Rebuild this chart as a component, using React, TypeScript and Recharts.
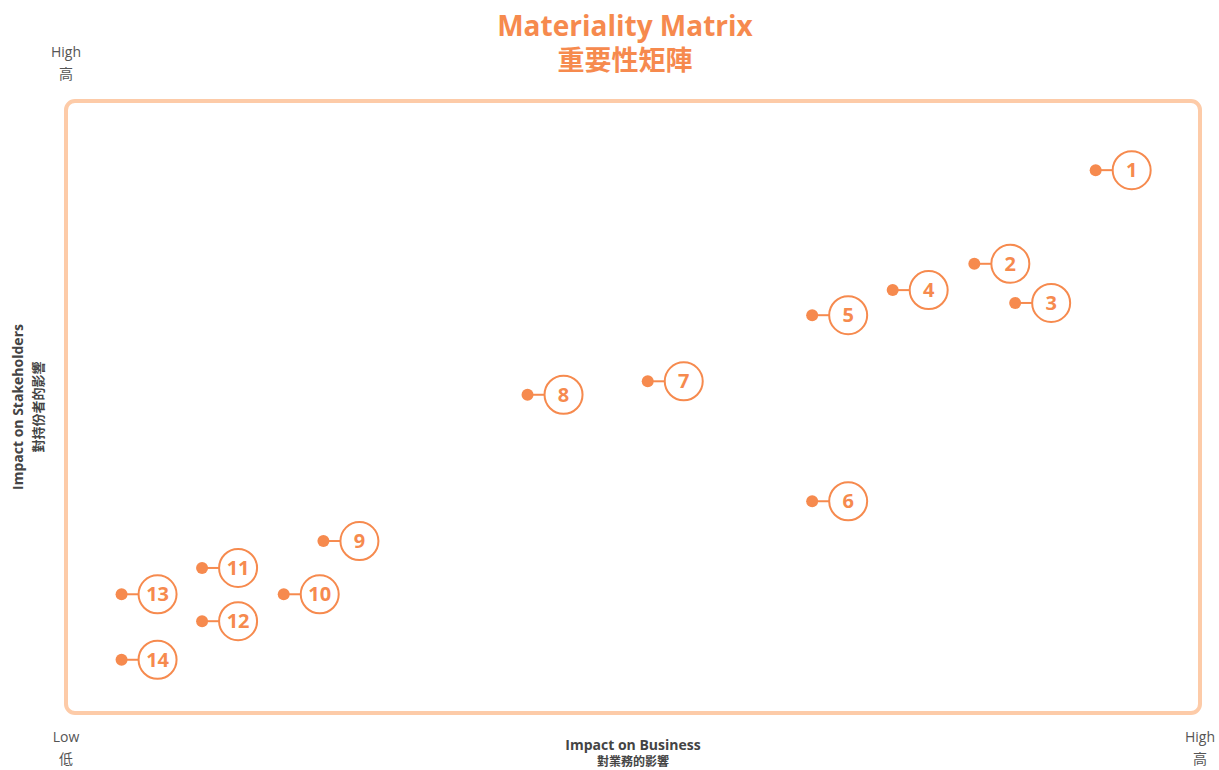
import React from "react";
import { ScatterChart, Scatter, XAxis, YAxis, ReferenceArea } from "recharts";

// impact on business (x) and impact on stakeholders (y), 0-100 scale
const ids = [1, 2, 3, 4, 5, 6, 7, 8, 9, 10, 11, 12, 13, 14];
const businessImpact = [90.8, 80.1, 83.7, 72.9, 65.8, 65.8, 51.3, 40.7, 22.7, 19.2, 12.0, 12.0, 4.9, 4.9];
const stakeholderImpact = [88.7, 73.4, 67.0, 69.1, 65.0, 34.6, 54.2, 52.0, 28.1, 19.4, 23.7, 15.0, 19.4, 8.7];

const data = ids.map((id, i) => ({ id, x: businessImpact[i], y: stakeholderImpact[i] }));

const ORANGE = "#F68A4E";
const BORDER = "#FDCBA8";
const GREY = "#555";
const FONT = "'Open Sans', 'Noto Sans CJK TC', sans-serif";

const Marker = (props: any) => {
    const { cx, cy, payload } = props;
    const off = 36;
    const r = 19;
    return (
        <g>
            <line x1={cx} y1={cy} x2={cx + off - r} y2={cy} stroke={ORANGE} strokeWidth={2} />
            <circle cx={cx} cy={cy} r={6} fill={ORANGE} />
            <circle cx={cx + off} cy={cy} r={r} fill="#fff" stroke={ORANGE} strokeWidth={2} />
            <text
                x={cx + off}
                y={cy + 7}
                textAnchor="middle"
                fontSize={20}
                fontWeight={700}
                fill={ORANGE}
                fontFamily={FONT}
            >
                {payload.id}
            </text>
        </g>
    );
};

const App = () => (
    <div>
        {/* drop the default body margin so the chart gets the whole page */}
        <style>{"body { margin: 0; }"}</style>
        <ScatterChart
            width={1219}
            height={770}
            margin={{ top: 101, right: 19, bottom: 57, left: 66 }}
            style={{ fontFamily: FONT }}
        >
            <XAxis type="number" dataKey="x" domain={[0, 100]} hide />
            <YAxis type="number" dataKey="y" domain={[0, 100]} hide />
            <ReferenceArea
                x1={0}
                x2={100}
                y1={0}
                y2={100}
                ifOverflow="visible"
                shape={(p: any) => (
                    <rect x={p.x} y={p.y} width={p.width} height={p.height} rx={9} fill="none" stroke={BORDER} strokeWidth={4} />
                )}
            />
            <Scatter data={data} shape={<Marker />} isAnimationActive={false} />

            <text x={625} y={36} textAnchor="middle" fontSize={28} fontWeight={700} fill={ORANGE} fontFamily={FONT}>
                Materiality Matrix
            </text>
            <text x={625} y={70} textAnchor="middle" fontSize={27} fontWeight={700} fill={ORANGE} fontFamily={FONT}>
                重要性矩陣
            </text>

            <text x={66} y={57} textAnchor="middle" fontSize={14} fill={GREY} fontFamily={FONT}>High</text>
            <text x={66} y={79} textAnchor="middle" fontSize={14} fill={GREY} fontFamily={FONT}>高</text>
            <text x={66} y={742} textAnchor="middle" fontSize={14} fill={GREY} fontFamily={FONT}>Low</text>
            <text x={66} y={764} textAnchor="middle" fontSize={14} fill={GREY} fontFamily={FONT}>低</text>
            <text x={1200} y={742} textAnchor="middle" fontSize={14} fill={GREY} fontFamily={FONT}>High</text>
            <text x={1200} y={764} textAnchor="middle" fontSize={14} fill={GREY} fontFamily={FONT}>高</text>

            <text x={633} y={750} textAnchor="middle" fontSize={14} fontWeight={700} fill="#444" fontFamily={FONT}>
                Impact on Business
            </text>
            <text x={633} y={766} textAnchor="middle" fontSize={12} fontWeight={700} fill="#444" fontFamily={FONT}>
                對業務的影響
            </text>

            <g transform="translate(23 407) rotate(-90)">
                <text x={0} y={0} textAnchor="middle" fontSize={14} fontWeight={700} fill="#444" fontFamily={FONT}>
                    Impact on Stakeholders
                </text>
                <text x={0} y={20} textAnchor="middle" fontSize={13} fontWeight={700} fill="#444" fontFamily={FONT}>
                    對持份者的影響
                </text>
            </g>
        </ScatterChart>
    </div>
);

export default App;
